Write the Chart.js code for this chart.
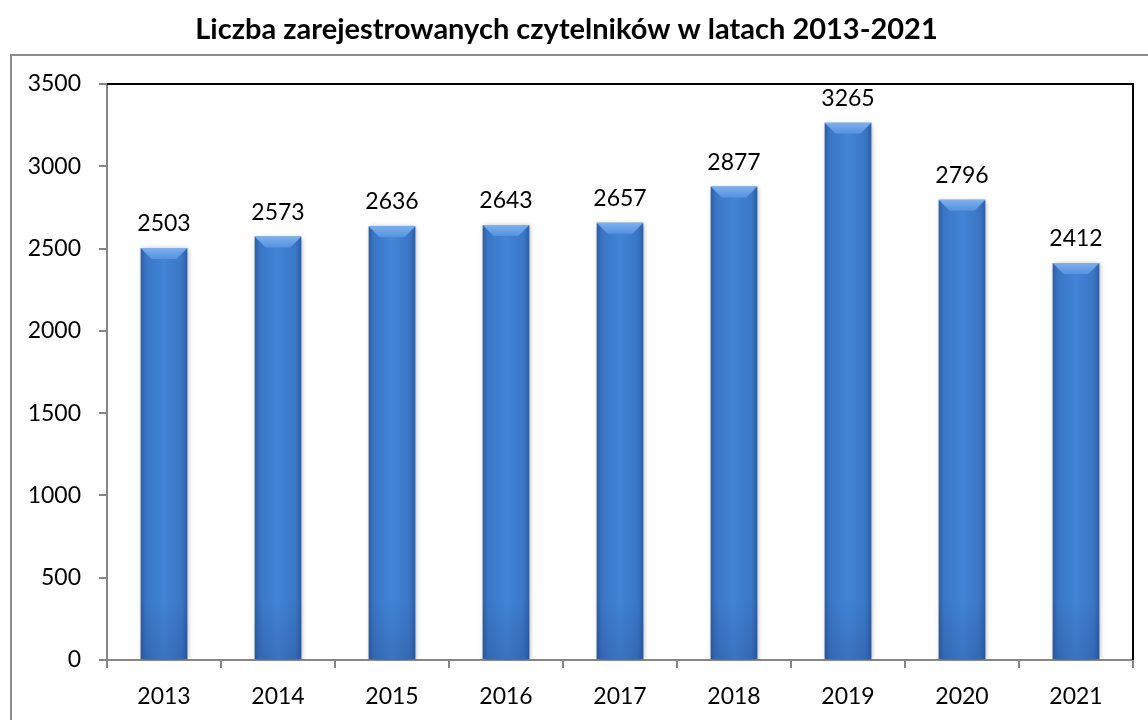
<!DOCTYPE html>
<html>
<head>
<meta charset="utf-8">
<script src="https://cdn.jsdelivr.net/npm/chart.js@4/dist/chart.umd.min.js"></script>
<style>
  html, body { margin: 0; padding: 0; background: #fff; }
  #wrap { width: 1148px; height: 720px; position: relative; }
</style>
</head>
<body>
<div id="wrap"><canvas id="chart"></canvas></div>
<script>
// Data
const years = ['2013', '2014', '2015', '2016', '2017', '2018', '2019', '2020', '2021'];
const readers = [2503, 2573, 2636, 2643, 2657, 2877, 3265, 2796, 2412];
const titleText = 'Liczba zarejestrowanych czytelników w latach 2013-2021';

const FONT = 'Lato, "Open Sans", sans-serif';

// Horizontal gradient so the bars look like rounded bevels
function barFill(ctx) {
    const chart = ctx.chart;
    const xs = chart.scales.x;
    if (!chart.chartArea || !xs) return '#3b78c9';
    const cx = xs.getPixelForValue(ctx.dataIndex);
    const half = (xs.width / years.length) * 0.41 / 2;
    const g = chart.ctx.createLinearGradient(cx - half, 0, cx + half, 0);
    g.addColorStop(0, '#2d5ea3');
    g.addColorStop(0.12, '#3a76c6');
    g.addColorStop(0.5, '#4284d6');
    g.addColorStop(0.88, '#3a76c6');
    g.addColorStop(1, '#2d5ea3');
    return g;
}

// Frame of the whole chart + black top/right edge of plot area
const framePlugin = {
    id: 'frame',
    beforeDraw(chart) {
        const c = chart.ctx;
        c.save();
        c.strokeStyle = '#8c8c8c';
        c.lineWidth = 2;
        c.strokeRect(11, 55, 1150, 700);
        c.restore();
    },
    afterDraw(chart) {
        const a = chart.chartArea;
        const c = chart.ctx;
        c.save();
        c.strokeStyle = '#000';
        c.lineWidth = 2;
        c.beginPath();
        c.moveTo(a.left, a.top);
        c.lineTo(a.right, a.top);
        c.lineTo(a.right, a.bottom);
        c.stroke();
        c.restore();
    }
};

// Shadow behind bars, bevel on top, value labels
const barDecor = {
    id: 'barDecor',
    beforeDatasetsDraw(chart) {
        const c = chart.ctx;
        c.save();
        c.shadowColor = 'rgba(0,0,0,0.35)';
        c.shadowBlur = 5;
        c.shadowOffsetX = 1;
        c.shadowOffsetY = 1;
    },
    afterDatasetsDraw(chart) {
        const c = chart.ctx;
        c.restore();
        const meta = chart.getDatasetMeta(0);
        c.save();
        meta.data.forEach((bar, i) => {
            const w = bar.width;
            const l = bar.x - w / 2, r = bar.x + w / 2;
            const t = bar.y, b = bar.base;
            const bev = 11;
            // top bevel
            const g = c.createLinearGradient(0, t, 0, t + bev);
            g.addColorStop(0, '#7db0ee');
            g.addColorStop(1, '#5592de');
            c.fillStyle = g;
            c.beginPath();
            c.moveTo(l, t);
            c.lineTo(r, t);
            c.lineTo(r - bev, t + bev);
            c.lineTo(l + bev, t + bev);
            c.closePath();
            c.fill();
            // darker towards the bottom
            const gb = c.createLinearGradient(0, b - 60, 0, b);
            gb.addColorStop(0, 'rgba(20,40,90,0)');
            gb.addColorStop(1, 'rgba(20,40,90,0.18)');
            c.fillStyle = gb;
            c.fillRect(l, b - 60, w, 60);
            // value label
            c.fillStyle = '#000';
            c.font = '23px ' + FONT;
            c.textAlign = 'center';
            c.textBaseline = 'alphabetic';
            c.fillText(String(readers[i]), bar.x, t - 17);
        });
        c.restore();
    }
};

new Chart(document.getElementById('chart'), {
    type: 'bar',
    data: {
        labels: years,
        datasets: [{
            label: 'Czytelnicy',
            data: readers,
            backgroundColor: barFill,
            borderWidth: 0,
            barPercentage: 0.41,
            categoryPercentage: 1.0
        }]
    },
    options: {
        responsive: true,
        maintainAspectRatio: false,
        animation: false,
        layout: { padding: { left: 0, right: 15, top: 0, bottom: 0 } },
        plugins: {
            legend: { display: false },
            tooltip: { enabled: false },
            title: {
                display: true,
                text: titleText,
                color: '#000',
                font: { family: FONT, size: 29, weight: 'bold', lineHeight: 1.2 },
                padding: { top: 12, bottom: 37.2 }
            }
        },
        scales: {
            x: {
                grid: { display: true, drawOnChartArea: false, drawTicks: true, tickLength: 8, color: '#868686', lineWidth: 2, offset: true },
                border: { display: true, color: '#868686', width: 2 },
                ticks: { color: '#000', font: { family: FONT, size: 23 }, padding: 15 },
                afterFit(scale) { scale.height = 60; }
            },
            y: {
                min: 0,
                max: 3500,
                grid: { display: true, drawOnChartArea: false, drawTicks: true, tickLength: 8, color: '#868686', lineWidth: 2 },
                border: { display: true, color: '#868686', width: 2 },
                ticks: { stepSize: 500, color: '#000', font: { family: FONT, size: 23 }, padding: 18, callback: v => String(v) },
                afterFit(scale) { scale.width = 107; }
            }
        }
    },
    plugins: [framePlugin, barDecor]
});
</script>
</body>
</html>
